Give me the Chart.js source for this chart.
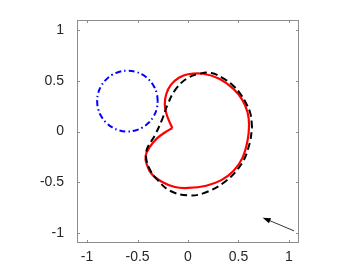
<!DOCTYPE html>
<html>
<head>
<meta charset="utf-8">
<script src="https://cdn.jsdelivr.net/npm/chart.js@4"></script>
<style>body{margin:0;background:#fff}</style>
</head>
<body>
<canvas id="chart" width="364" height="273"></canvas>
<script>
// axis range and ticks
const axisMin = -1.1;
const axisMax = 1.1;
const tickValues = [-1, -0.5, 0, 0.5, 1];

// blue dash-dot circle
const circleX = [-0.30, -0.31, -0.34, -0.388, -0.45, -0.522, -0.60, -0.678, -0.75, -0.812, -0.86, -0.89,
                 -0.90, -0.89, -0.86, -0.812, -0.75, -0.678, -0.60, -0.522, -0.45, -0.388, -0.34, -0.31, -0.30];
const circleY = [0.30, 0.378, 0.45, 0.512, 0.56, 0.59, 0.60, 0.59, 0.56, 0.512, 0.45, 0.378,
                 0.30, 0.222, 0.15, 0.088, 0.04, 0.01, 0.00, 0.01, 0.04, 0.088, 0.15, 0.222, 0.30];

// red curve (starts and ends at the dent tip)
const redX = [-0.155, -0.19, -0.215, -0.23, -0.215, -0.17, -0.09, 0.0, 0.15, 0.31, 0.45, 0.54, 0.59, 0.605,
              0.59, 0.54, 0.45, 0.33, 0.18, 0.0, -0.13, -0.26, -0.36, -0.41, -0.42, -0.38, -0.31, -0.23, -0.155];
const redY = [0.035, 0.11, 0.18, 0.27, 0.37, 0.46, 0.53, 0.565, 0.57, 0.52, 0.42, 0.31, 0.19, 0.07,
              -0.09, -0.26, -0.39, -0.48, -0.535, -0.557, -0.548, -0.495, -0.42, -0.32, -0.24, -0.155, -0.07, -0.01, 0.035];

// black dashed curve
const dashX = [0.635, 0.62, 0.58, 0.52, 0.445, 0.34, 0.23, 0.115, -0.016, -0.13, -0.2, -0.26, -0.33, -0.40,
               -0.415, -0.41, -0.37, -0.31, -0.18, 0.0, 0.15, 0.36, 0.53, 0.61, 0.635];
const dashY = [0.04, 0.17, 0.27, 0.37, 0.455, 0.53, 0.577, 0.57, 0.52, 0.405, 0.27, 0.11, -0.04, -0.155,
               -0.22, -0.29, -0.39, -0.47, -0.584, -0.63, -0.61, -0.50, -0.32, -0.12, 0.04];

// arrow (tail -> head)
const arrowTail = [1.05, -0.98];
const arrowHead = [0.74, -0.85];

const pts = (xs, ys) => xs.map((x, i) => ({x: x, y: ys[i]}));

const frame = {
  id: 'frame',
  afterDatasetsDraw(chart) {
    const {ctx, chartArea: a, scales} = chart;
    ctx.save();
    ctx.strokeStyle = '#8c8c8c';
    ctx.lineWidth = 1;
    ctx.strokeRect(a.left + 0.5, a.top + 0.5, a.right - a.left - 1, a.bottom - a.top - 1);
    ctx.beginPath();
    tickValues.forEach(v => {
      const px = Math.round(scales.x.getPixelForValue(v)) + 0.5;
      ctx.moveTo(px, a.bottom); ctx.lineTo(px, a.bottom - 3);
      ctx.moveTo(px, a.top); ctx.lineTo(px, a.top + 3);
      const py = Math.round(scales.y.getPixelForValue(v)) + 0.5;
      ctx.moveTo(a.left, py); ctx.lineTo(a.left + 3, py);
      ctx.moveTo(a.right, py); ctx.lineTo(a.right - 3, py);
    });
    ctx.stroke();

    // arrow
    const x0 = scales.x.getPixelForValue(arrowTail[0]), y0 = scales.y.getPixelForValue(arrowTail[1]);
    const x1 = scales.x.getPixelForValue(arrowHead[0]), y1 = scales.y.getPixelForValue(arrowHead[1]);
    const ang = Math.atan2(y1 - y0, x1 - x0);
    ctx.strokeStyle = '#000';
    ctx.fillStyle = '#000';
    ctx.lineWidth = 0.8;
    ctx.beginPath();
    ctx.moveTo(x0, y0);
    ctx.lineTo(x1 - 5 * Math.cos(ang), y1 - 5 * Math.sin(ang));
    ctx.stroke();
    ctx.beginPath();
    ctx.moveTo(x1, y1);
    ctx.lineTo(x1 - 8 * Math.cos(ang) + 2.8 * Math.sin(ang), y1 - 8 * Math.sin(ang) - 2.8 * Math.cos(ang));
    ctx.lineTo(x1 - 8 * Math.cos(ang) - 2.8 * Math.sin(ang), y1 - 8 * Math.sin(ang) + 2.8 * Math.cos(ang));
    ctx.closePath();
    ctx.fill();
    ctx.restore();
  }
};

const axisOpts = (fit, pad) => ({
  type: 'linear',
  min: axisMin,
  max: axisMax,
  afterBuildTicks: s => { s.ticks = tickValues.map(v => ({value: v})); },
  afterFit: fit,
  grid: {display: false},
  border: {display: false},
  ticks: {
    color: '#262626',
    font: {family: 'Liberation Sans', size: 14},
    padding: pad,
    callback: v => String(v)
  }
});

new Chart(document.getElementById('chart').getContext('2d'), {
  type: 'scatter',
  data: {
    datasets: [
      {
        data: pts(circleX, circleY),
        showLine: true,
        borderColor: '#0000ff',
        borderWidth: 2,
        borderDash: [6, 3, 1.5, 3],
        pointRadius: 0,
        tension: 0.4
      },
      {
        data: pts(dashX, dashY),
        showLine: true,
        borderColor: '#000000',
        borderWidth: 2,
        borderDash: [7, 4],
        pointRadius: 0,
        tension: 0.4
      },
      {
        data: pts(redX, redY),
        showLine: true,
        borderColor: '#ff0000',
        borderWidth: 2.2,
        pointRadius: 0,
        tension: 0.4
      }
    ]
  },
  options: {
    responsive: false,
    animation: false,
    devicePixelRatio: 1,
    layout: {padding: {left: 0, top: 20, right: 65, bottom: 0}},
    plugins: {legend: {display: false}, tooltip: {enabled: false}},
    scales: {
      x: axisOpts(s => { s.height = 30; }, -2),
      y: axisOpts(s => { s.width = 77; }, 5)
    }
  },
  plugins: [frame]
});
</script>
</body>
</html>
